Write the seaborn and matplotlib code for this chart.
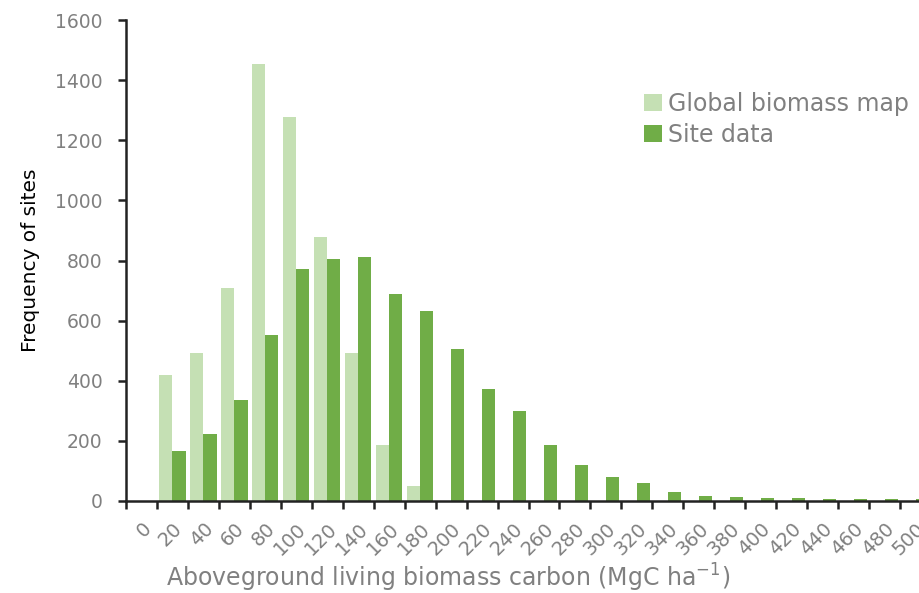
import numpy as np
import pandas as pd
import matplotlib
matplotlib.use("Agg")
import matplotlib.pyplot as plt
from matplotlib.patches import Patch
import seaborn as sns

# Biomass carbon classes (MgC/ha), bin labels
bins = ["0", "20", "40", "60", "80", "100", "120", "140", "160", "180", "200",
        "220", "240", "260", "280", "300", "320", "340", "360", "380", "400",
        "420", "440", "460", "480", "500"]

# Number of sites per class
global_map = [0, 418, 492, 708, 1452, 1277, 877, 491, 186, 50, 0,
              0, 0, 0, 0, 0, 0, 0, 0, 0, 0,
              0, 0, 0, 0, 0]
site_data = [0, 165, 222, 337, 551, 771, 805, 813, 688, 631, 506,
             372, 299, 187, 120, 81, 60, 29, 18, 14, 10,
             11, 7, 5, 7, 5]

series_names = ["Global biomass map", "Site data"]
colors = ["#c5e0b4", "#70ad47"]

df = pd.DataFrame({
    "bin": bins * 2,
    "count": global_map + site_data,
    "source": [series_names[0]] * len(bins) + [series_names[1]] * len(bins),
})

sns.set_theme(style="white")
plt.rcParams["font.family"] = ["DejaVu Sans"]
plt.rcParams["mathtext.fontset"] = "dejavusans"
plt.rcParams["mathtext.default"] = "regular"

W, H = 920, 593
fig = plt.figure(figsize=(W / 100, H / 100), dpi=100)
left, right, top, bottom = 126, 931, 20, 501
ax = fig.add_axes([left / W, (H - bottom) / H, (right - left) / W, (bottom - top) / H])

sns.barplot(data=df, x="bin", y="count", hue="source", order=bins,
            hue_order=series_names, palette=colors, width=0.85,
            saturation=1, linewidth=0, ax=ax, legend=False)

ax.set_xlim(-0.5, len(bins) - 0.5)
ax.set_ylim(0, 1600)
ax.set_yticks(np.arange(0, 1601, 200))

grey = "#808080"
dark = "#222222"
# category labels centred under each pair, tick marks between categories
ax.set_xticks(np.arange(len(bins)))
ax.set_xticklabels(bins, rotation=45, ha="right", rotation_mode="anchor",
                   color=grey, fontsize=14)
ax.tick_params(axis="x", which="major", length=0, pad=13)
ax.set_xticks(np.arange(len(bins) + 1) - 0.5, minor=True)
ax.tick_params(axis="x", which="minor", length=6, width=1.8, color=dark,
               direction="out", bottom=True)
ax.tick_params(axis="y", length=6, width=1.8, color=dark, direction="out",
               left=True, labelsize=13.5, labelcolor=grey, pad=11)

for side in ["top", "right"]:
    ax.spines[side].set_visible(False)
for side in ["left", "bottom"]:
    ax.spines[side].set_color(dark)
    ax.spines[side].set_linewidth(1.8)

ax.set_ylabel("Frequency of sites", fontsize=14.5, color="black")
ax.yaxis.set_label_coords(-(left - 40) / (right - left), 0.5)
ax.set_xlabel(r"Aboveground living biomass carbon (MgC ha$^{-1}$)",
              fontsize=17, color=grey, va="center")
ax.xaxis.set_label_coords((448 - left) / (right - left), -(578 - bottom) / (bottom - top))

handles = [Patch(facecolor=c, edgecolor="none") for c in colors]
leg = ax.legend(handles, series_names, loc="upper left",
                bbox_to_anchor=(644 / W, 1 - 92 / H), bbox_transform=fig.transFigure,
                frameon=False, fontsize=17, handlelength=0.75, handleheight=0.75,
                handletextpad=0.25, labelspacing=0.3, borderaxespad=0,
                borderpad=0)
for t in leg.get_texts():
    t.set_color(grey)

fig.savefig("out.png", dpi=100, facecolor="white")
